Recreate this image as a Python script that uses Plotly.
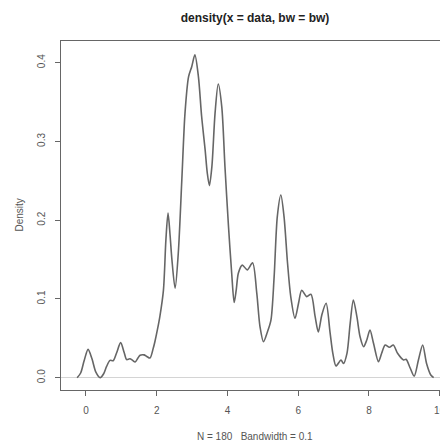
import plotly.graph_objects as go

# Density curve (x, density)
density_x = [-0.25, -0.15, -0.05, 0.06, 0.17, 0.28, 0.40, 0.50, 0.58, 0.68, 0.77, 0.87, 0.98,
             1.08, 1.15, 1.24, 1.32, 1.39, 1.47, 1.53, 1.64, 1.72, 1.81, 1.90, 1.95, 2.02, 2.09,
             2.19, 2.26, 2.32, 2.38, 2.43, 2.52, 2.61, 2.71, 2.80, 2.90, 2.99, 3.08, 3.18, 3.27,
             3.37, 3.43, 3.49, 3.56, 3.65, 3.74, 3.84, 3.93, 4.03, 4.12, 4.19, 4.25, 4.31, 4.42,
             4.56, 4.71, 4.83, 4.92, 5.02, 5.13, 5.23, 5.32, 5.41, 5.51, 5.60, 5.70, 5.79, 5.91,
             6.01, 6.10, 6.24, 6.36, 6.48, 6.57, 6.67, 6.79, 6.90, 6.98, 7.07, 7.21, 7.28, 7.38,
             7.47, 7.56, 7.66, 7.75, 7.85, 7.94, 8.03, 8.13, 8.27, 8.36, 8.46, 8.58, 8.69, 8.81,
             8.98, 9.05, 9.17, 9.28, 9.40, 9.52, 9.63, 9.75, 9.83]
density_y = [0.000, 0.006, 0.022, 0.036, 0.024, 0.007, 0.000, 0.005, 0.014, 0.022, 0.0216, 0.032, 0.0445,
             0.032, 0.023, 0.024, 0.022, 0.020, 0.025, 0.0285, 0.029, 0.027, 0.025, 0.037, 0.046, 0.061, 0.078,
             0.111, 0.175, 0.209, 0.180, 0.150, 0.1136, 0.158, 0.251, 0.336, 0.382, 0.395, 0.410, 0.382, 0.332,
             0.289, 0.260, 0.244, 0.268, 0.336, 0.373, 0.344, 0.268, 0.192, 0.133, 0.0955, 0.112, 0.133, 0.143,
             0.137, 0.146, 0.107, 0.065, 0.0457, 0.058, 0.073, 0.128, 0.2046, 0.232, 0.2046, 0.145, 0.103, 0.0755,
             0.0945, 0.111, 0.103, 0.106, 0.0775, 0.058, 0.080, 0.0945, 0.058, 0.031, 0.0149, 0.0225, 0.018, 0.031,
             0.069, 0.0987, 0.0775, 0.052, 0.0394, 0.048, 0.0606, 0.0437, 0.0203, 0.031, 0.0416, 0.0386, 0.0416, 0.031,
             0.0225, 0.0234, 0.012, 0.002, 0.0225, 0.0416, 0.018, 0.0034, 0.000]

x_ticks = [0, 2, 4, 6, 8, 10]
y_ticks = [0.0, 0.1, 0.2, 0.3, 0.4]
y_tick_text = ["0.0", "0.1", "0.2", "0.3", "0.4"]

title_text = "density(x = data, bw = bw)"
x_title = "N = 180   Bandwidth = 0.1"
y_title = "Density"

W, H = 440, 443
L, T, B, R = 61, 41, 53, 0

fig = go.Figure()
fig.add_trace(go.Scatter(
    x=density_x, y=density_y, mode="lines",
    line=dict(color="#666666", width=1.6, shape="spline", smoothing=0.8),
    hoverinfo="skip", showlegend=False,
))

axis_font = dict(family="Liberation Sans, Arial, sans-serif", size=10, color="#555555")

fig.update_layout(
    width=W, height=H,
    margin=dict(l=L, r=R, t=T, b=B, pad=0, autoexpand=False),
    paper_bgcolor="white", plot_bgcolor="white",
    showlegend=False,
    title=dict(text="<b>" + title_text + "</b>", x=255 / W, xref="container", xanchor="center",
               y=1 - 18 / H, yref="container", yanchor="middle",
               font=dict(family="Liberation Sans, Arial, sans-serif", size=12, color="#222222")),
    xaxis=dict(range=[-0.706, 10.01], tickvals=x_ticks, ticks="outside", ticklen=5,
               tickcolor="#666666", tickwidth=1, showgrid=False, zeroline=False,
               showline=True, linecolor="#666666", linewidth=1, mirror=True,
               tickfont=axis_font, ticklabelstandoff=6, ticklabeloverflow="allow",
               automargin=False),
    yaxis=dict(range=[-0.0156, 0.4276], tickvals=y_ticks, ticktext=y_tick_text, ticks="outside",
               ticklen=5, tickcolor="#666666", tickwidth=1, showgrid=False,
               zeroline=True, zerolinecolor="#d4d4d4", zerolinewidth=1,
               showline=True, linecolor="#666666", linewidth=1, mirror=False,
               tickangle=-90, tickfont=axis_font, ticklabelstandoff=6, automargin=False),
    annotations=[
        dict(text=x_title, xref="paper", yref="paper", x=(255 - L) / (W - L - R),
             y=-(436 - (H - B)) / (H - T - B), xanchor="center", yanchor="middle",
             showarrow=False, font=axis_font),
        dict(text=y_title, xref="paper", yref="paper", x=(19 - L) / (W - L - R),
             y=0.5, xanchor="center", yanchor="middle", textangle=-90,
             showarrow=False, font=axis_font),
    ],
)

fig.write_html("out.html", config={"displayModeBar": False, "staticPlot": True},
               post_script="document.body.style.margin='0';document.body.style.overflow='hidden';")
